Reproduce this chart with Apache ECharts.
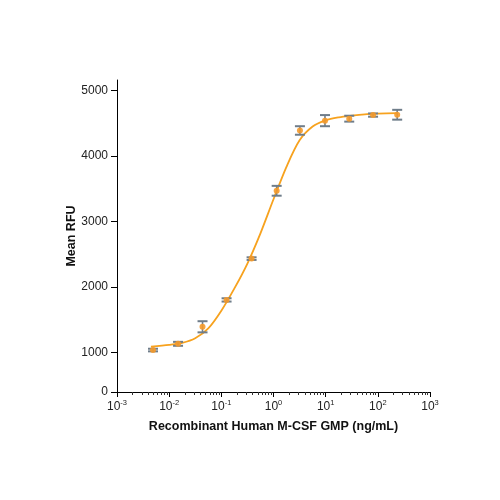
<!DOCTYPE html>
<html><head><meta charset="utf-8">
<script src="https://cdn.jsdelivr.net/npm/echarts@6/dist/echarts.min.js"></script>
<style>html,body{margin:0;padding:0;background:#fff}#c{width:500px;height:500px}</style>
</head><body><div id="c"></div>
<script>
// Measured points (concentration in ng/mL, mean RFU, error half-width)
const concentrations = [0.0049, 0.0148, 0.0436, 0.126, 0.380, 1.15, 3.21, 9.7, 28.3, 81, 235];
const meanRFU = [1040, 1135, 1395, 1805, 2435, 3470, 4390, 4540, 4570, 4625, 4630];
const errRFU = [20, 30, 85, 25, 20, 75, 65, 85, 45, 25, 75];
// Fitted curve (concentration, RFU)
const fitX = [0.00447, 0.01, 0.0178, 0.0316, 0.0562, 0.1, 0.178, 0.316, 0.562, 1, 1.78, 3.16, 5.62, 10, 17.8, 31.6, 56.2, 100, 234];
const fitY = [1092, 1120, 1150, 1220, 1370, 1640, 1980, 2360, 2820, 3340, 3840, 4240, 4450, 4545, 4590, 4616, 4636, 4646, 4655];
// Axis ticks
const xTickExponents = [-3, -2, -1, 0, 1, 2, 3];
const minorMultipliers = [2, 3, 4, 5, 6, 7, 8, 9];
const yTickValues = [400, 1000, 2000, 3000, 4000, 5000];
const yTickLabels = ['0', '1000', '2000', '3000', '4000', '5000'];

const FONT = '"Liberation Sans Narrow","Liberation Sans",Arial,sans-serif';
const minorTicks = [];
for (let d = xTickExponents[0]; d < xTickExponents[xTickExponents.length - 1]; d++) {
  for (const m of minorMultipliers) minorTicks.push(d + Math.log10(m));
}

const chart = echarts.init(document.getElementById('c'), null, {renderer: 'canvas'});
const option = {
  animation: false,
  backgroundColor: '#fff',
  grid: {left: 117, right: 70, top: 80, bottom: 108, containLabel: false},
  xAxis: [
    {
      type: 'log', logBase: 10, min: 0.001, max: 1000,
      axisLine: {show: true, onZero: false, lineStyle: {color: '#000', width: 1}},
      axisTick: {show: false}, axisLabel: {show: false}, splitLine: {show: false}, minorTick: {show: false},
      name: 'Recombinant Human M-CSF GMP (ng/mL)', nameLocation: 'middle', nameGap: 28,
      nameMoveOverlap: false,
      nameTextStyle: {fontFamily: FONT, fontWeight: 'bold', fontSize: 12.5, color: '#111'}
    },
    {
      type: 'value', min: -3, max: 3, interval: 1, position: 'bottom',
      axisLine: {show: false, onZero: false},
      axisTick: {show: true, length: 5, lineStyle: {color: '#000'}},
      splitLine: {show: false},
      axisLabel: {
        margin: 7,
        formatter: v => '{b|10}{s|' + v + '}',
        rich: {
          b: {fontFamily: FONT, fontSize: 12, color: '#222', lineHeight: 14, verticalAlign: 'bottom'},
          s: {fontFamily: FONT, fontSize: 7.5, color: '#222', verticalAlign: 'top', lineHeight: 14}
        }
      }
    },
    {
      type: 'value', min: -3, max: 3, position: 'bottom',
      axisLine: {show: false, onZero: false},
      axisTick: {show: true, length: 3, customValues: minorTicks, lineStyle: {color: '#333'}},
      axisLabel: {show: false}, splitLine: {show: false}
    }
  ],
  yAxis: {
    type: 'value', min: 400, max: 5160,
    axisLine: {show: true, onZero: false, lineStyle: {color: '#000', width: 1}},
    axisTick: {show: true, length: 6, customValues: yTickValues, lineStyle: {color: '#000'}},
    axisLabel: {
      customValues: yTickValues,
      formatter: v => yTickLabels[yTickValues.indexOf(v)],
      margin: 9, fontFamily: FONT, fontSize: 12, color: '#222'
    },
    splitLine: {show: false},
    name: 'Mean RFU', nameLocation: 'middle', nameGap: 39, nameRotate: 90,
    nameMoveOverlap: false,
    nameTextStyle: {fontFamily: FONT, fontWeight: 'bold', fontSize: 12.5, color: '#111'}
  },
  series: [
    {
      type: 'line', xAxisIndex: 0, yAxisIndex: 0,
      data: fitX.map((x, i) => [x, fitY[i]]),
      smooth: 0.3, symbol: 'none',
      lineStyle: {color: '#f7a21e', width: 1.8}, z: 2
    },
    {
      type: 'custom', xAxisIndex: 0, yAxisIndex: 0,
      data: concentrations.map((x, i) => [x, meanRFU[i] - errRFU[i], meanRFU[i] + errRFU[i]]),
      encode: {x: 0, y: [1, 2]},
      renderItem: (params, api) => {
        const x = api.value(0);
        const pLo = api.coord([x, api.value(1)]);
        const pHi = api.coord([x, api.value(2)]);
        const hw = 5;
        const capStyle = {stroke: '#6f7d8a', lineWidth: 2};
        return {type: 'group', children: [
          {type: 'line', shape: {x1: pLo[0], y1: pLo[1], x2: pHi[0], y2: pHi[1]}, style: {stroke: '#6f7d8a', lineWidth: 1.6}},
          {type: 'line', shape: {x1: pLo[0] - hw, y1: pLo[1], x2: pLo[0] + hw, y2: pLo[1]}, style: capStyle},
          {type: 'line', shape: {x1: pHi[0] - hw, y1: pHi[1], x2: pHi[0] + hw, y2: pHi[1]}, style: capStyle}
        ]};
      },
      z: 3
    },
    {
      type: 'scatter', xAxisIndex: 0, yAxisIndex: 0,
      data: concentrations.map((x, i) => [x, meanRFU[i]]),
      symbol: 'circle', symbolSize: 6,
      itemStyle: {color: '#f59a2a', opacity: 0.9}, z: 4
    }
  ]
};
chart.setOption(option);
</script>
</body></html>
